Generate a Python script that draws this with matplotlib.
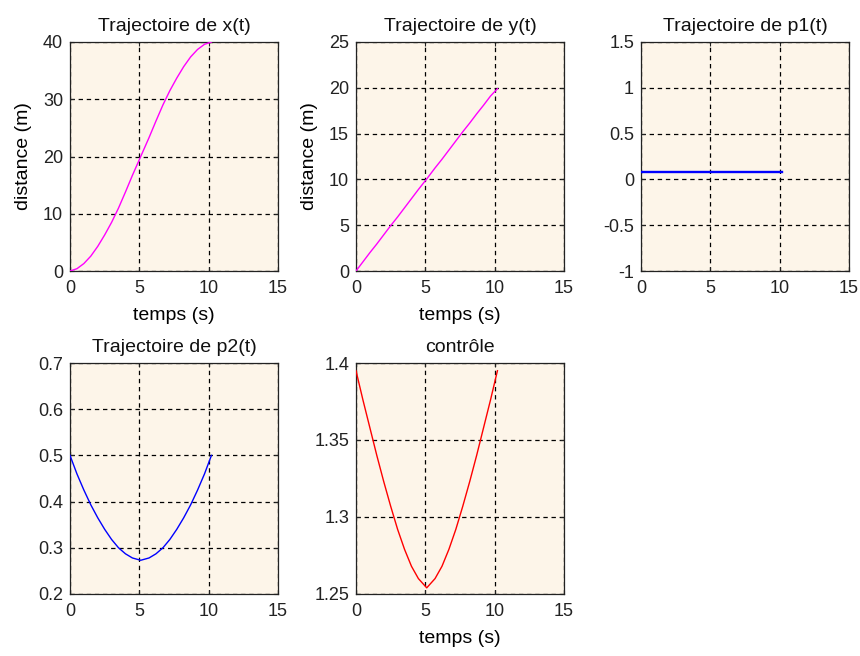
#matlab-style trajectory figure: 5 panels on a 2x3 grid, last cell left empty.

import matplotlib
matplotlib.use("Agg")
import matplotlib.pyplot as plt

plt.rcParams["font.family"] = ["Liberation Sans", "DejaVu Sans"]

t = [0, 0.5, 1.0, 1.5, 2.0, 2.5, 3.0, 3.5, 4.0, 4.5, 5.1,
     5.7, 6.2, 6.7, 7.2, 7.7, 8.2, 8.7, 9.2, 9.7, 10.2]

x_traj = [0, 0.4, 1.3, 2.6, 4.3, 6.3, 8.5, 11.0, 13.8, 16.7, 20.0,
          23.3, 26.2, 29.0, 31.5, 33.7, 35.7, 37.4, 38.7, 39.6, 40.0]
y_traj = [0, 1.0, 2.0, 2.95, 3.95, 4.95, 5.9, 6.9, 7.9, 8.9, 10.05,
          11.25, 12.2, 13.2, 14.2, 15.2, 16.15, 17.15, 18.1, 19.1, 19.9]
p1_traj = [0.08] * 21
p2_traj = [0.5, 0.46, 0.425, 0.393, 0.365, 0.34, 0.318, 0.300, 0.287, 0.278, 0.273,
           0.278, 0.287, 0.300, 0.318, 0.34, 0.365, 0.393, 0.425, 0.46, 0.5]
u_ctrl = [1.395, 1.376, 1.358, 1.340, 1.323, 1.307, 1.292, 1.279, 1.268, 1.260, 1.254,
          1.260, 1.268, 1.279, 1.292, 1.307, 1.323, 1.340, 1.358, 1.376, 1.395]

titles = ["Trajectoire de x(t)", "Trajectoire de y(t)", "Trajectoire de p1(t)",
          "Trajectoire de p2(t)", "contrôle"]
ylims = [(0, 40), (0, 25), (-1, 1.5), (0.2, 0.7), (1.25, 1.4)]
yticks = [[0, 10, 20, 30, 40], [0, 5, 10, 15, 20, 25],
          [-1, -0.5, 0, 0.5, 1, 1.5], [0.2, 0.3, 0.4, 0.5, 0.6, 0.7],
          [1.25, 1.3, 1.35, 1.4]]
ytick_labels = [["0", "10", "20", "30", "40"], ["0", "5", "10", "15", "20", "25"],
                ["-1", "-0.5", "0", "0.5", "1", "1.5"],
                ["0.2", "0.3", "0.4", "0.5", "0.6", "0.7"],
                ["1.25", "1.3", "1.35", "1.4"]]
series = [x_traj, y_traj, p1_traj, p2_traj, u_ctrl]
colors = ["#ff00ff", "#ff00ff", "#0000ff", "#0000ff", "#ff0000"]
ylabels = ["distance (m)", "distance (m)", None, None, None]
xlabels = ["temps (s)", "temps (s)", None, None, "temps (s)"]

W, H = 860, 656
boxes = [(70, 271, 208, 229), (356, 271, 208, 229), (641, 271, 208, 229),
         (70, 594, 208, 231), (356, 594, 208, 231)]

fig = plt.figure(figsize=(W / 100, H / 100), dpi=100)
bg = "#fdf5e9"
fs = 14
tfs = 13

for i in range(5):
    l, b, w, h = boxes[i]
    ax = fig.add_axes([l / W, 1 - b / H, w / W, h / H])
    ax.set_facecolor(bg)
    ax.plot(t, series[i], color=colors[i], lw=1.7 if i == 2 else 1.0, zorder=3)
    ax.set_xlim(0, 15)
    ax.set_xticks([0, 5, 10, 15])
    ax.set_ylim(*ylims[i])
    ax.set_yticks(yticks[i])
    ax.set_yticklabels(ytick_labels[i])
    ax.grid(True, color="black", linestyle=(0, (3.5, 3)), linewidth=0.9)
    ax.tick_params(direction="in", length=3, labelsize=tfs, top=True, right=True,
                   colors="#222222")
    ax.tick_params(axis="x", pad=6.5)
    ax.tick_params(axis="y", pad=5)
    for s in ax.spines.values():
        s.set_linewidth(0.9)
        s.set_color("#222222")
    ax.set_title(titles[i], fontsize=fs, pad=8, color="#111111")
    if ylabels[i]:
        ax.set_ylabel(ylabels[i], fontsize=fs, labelpad=8)
    if xlabels[i]:
        ax.set_xlabel(xlabels[i], fontsize=fs, labelpad=7)

fig.savefig("out.png", dpi=100, facecolor="white")
